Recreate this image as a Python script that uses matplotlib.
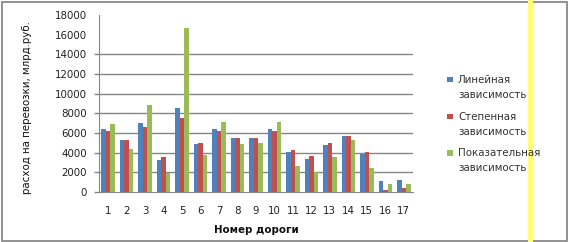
import numpy as np
import matplotlib
matplotlib.use("Agg")
import matplotlib.pyplot as plt
from matplotlib.patches import Rectangle

# data
roads = [str(i) for i in range(1, 18)]
linear = [6400, 5300, 7000, 3250, 8550, 4900, 6420, 5500, 5500, 6420,
          4090, 3380, 4800, 5710, 3890, 1150, 1250]
power = [6200, 5300, 6600, 3550, 7550, 5000, 6220, 5500, 5500, 6220,
         4290, 3680, 5000, 5710, 4090, 240, 440]
expo = [6900, 4350, 8850, 1950, 16700, 3780, 7130, 4900, 5000, 7130,
        2670, 2060, 3580, 5300, 2470, 850, 850]
series_names = [("Линейная", "зависимость"), ("Степенная", "зависимость"),
                ("Показательная", "зависимость")]
colors = ["#4F81BD", "#C0504D", "#9BBB59"]
yticks = list(range(0, 18001, 2000))

plt.rcParams["font.family"] = ["DejaVu Sans"]

W, H = 569, 242
fig = plt.figure(figsize=(W / 100, H / 100), dpi=100)
ax = fig.add_axes([99 / W, (H - 192) / H, (413 - 99) / W, (192 - 15) / H])

x = np.arange(len(roads))
bw = 0.245
for k, vals in enumerate([linear, power, expo]):
    ax.bar(x + (k - 1) * bw, vals, width=bw, color=colors[k], zorder=3)

ax.set_xlim(-0.5, len(roads) - 0.5)
ax.set_ylim(0, 18000)
ax.set_yticks(yticks)
ax.set_xticks(x)
ax.set_xticklabels(roads)
# gridlines, only the lower ones show in the reference
for v in yticks[1:8]:
    ax.axhline(v, color="#868686", lw=1, zorder=1)

for s in ["top", "right"]:
    ax.spines[s].set_visible(False)
ax.spines["left"].set_color("#868686")
ax.spines["bottom"].set_color("#868686")
ax.tick_params(axis="y", length=3.6, width=1, color="#868686", pad=5,
               labelsize=7.4, labelcolor="#222222")
ax.tick_params(axis="x", length=0, pad=10, labelsize=7.4, labelcolor="#222222")
# top two ticks have no tick mark in the reference
for t in ax.yaxis.get_major_ticks()[8:]:
    t.tick1line.set_visible(False)

fig.text(27 / W, 1 - 108 / H, "расход на перевозки, млрд.руб.", rotation=90,
         ha="center", va="center", fontsize=7.4, color="#111111")
fig.text(256 / W, 1 - 230 / H, "Номер дороги", ha="center", va="center",
         fontsize=7.4, fontweight="bold", color="#111111")

# legend drawn by hand to get the two-line layout
row_y = [80, 117, 153]
for k, (l1, l2) in enumerate(series_names):
    yc = row_y[k]
    fig.patches.append(Rectangle((447 / W, 1 - (yc + 2.5) / H), 5.5 / W, 5.5 / H,
                                 transform=fig.transFigure, color=colors[k], lw=0))
    fig.text(458 / W, 1 - yc / H, l1, ha="left", va="center", fontsize=7.4,
             color="#333333", zorder=5)
    fig.text(458 / W, 1 - (yc + 15) / H, l2, ha="left", va="center",
             fontsize=7.4, color="#333333", zorder=5)

# outer frame and yellow stripe
fig.patches.append(Rectangle((1.5 / W, 1.5 / H), (W - 4) / W, (H - 3) / H,
                             transform=fig.transFigure, fill=False,
                             ec="#7f7f7f", lw=1.2))
fig.patches.append(Rectangle((528 / W, 0), 5 / W, 1, transform=fig.transFigure,
                             color="#FFFF77", lw=0))

fig.savefig("out.png", dpi=100)
